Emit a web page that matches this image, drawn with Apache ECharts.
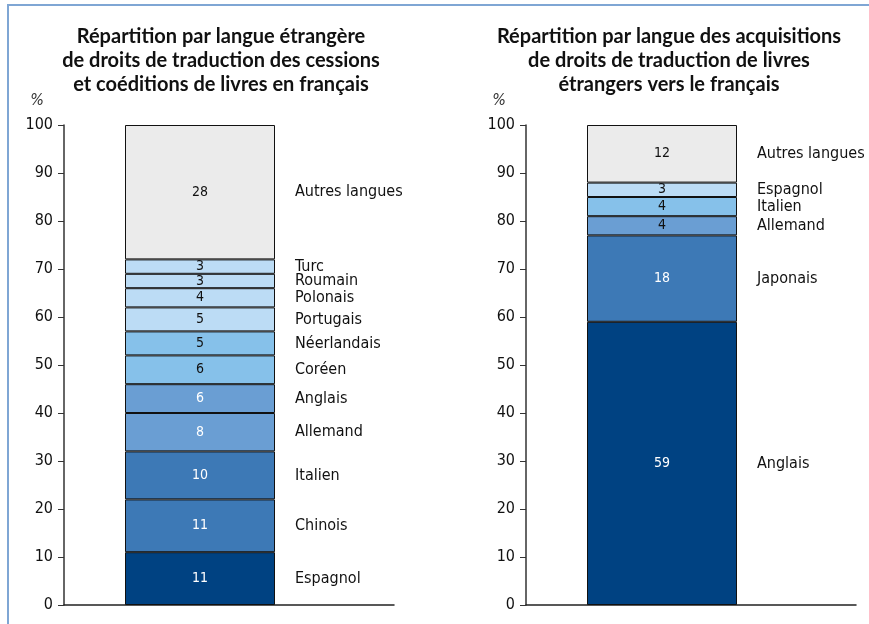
<!DOCTYPE html>
<html>
<head>
<meta charset="utf-8">
<script src="https://cdn.jsdelivr.net/npm/echarts@6/dist/echarts.min.js"></script>
<style>
html,body{margin:0;padding:0;background:#fff;}
#wrap{position:relative;width:869px;height:624px;overflow:hidden;}
#frame{position:absolute;left:7px;top:4px;width:900px;height:700px;border-left:2px solid #7fa6d4;border-top:2px solid #7fa6d4;box-sizing:border-box;}
#chart{position:absolute;left:0;top:0;width:869px;height:624px;}
</style>
</head>
<body>
<div id="wrap"><div id="frame"></div><div id="chart"></div></div>
<script>
// Left chart: cessions et coéditions (bottom to top)
const leftCategories = ['Espagnol','Chinois','Italien','Allemand','Anglais','Coréen','Néerlandais','Portugais','Polonais','Roumain','Turc','Autres langues'];
const leftValues = [11, 11, 10, 8, 6, 6, 5, 5, 4, 3, 3, 28];
const leftColors = ['#004282','#3d79b6','#3d79b6','#6a9ed3','#6a9ed3','#86c1ea','#86c1ea','#bcdcf5','#bcdcf5','#bcdcf5','#bcdcf5','#ebebeb'];
const leftLabelColors = ['#ffffff','#ffffff','#ffffff','#ffffff','#ffffff','#111111','#111111','#111111','#111111','#111111','#111111','#111111'];

// Right chart: acquisitions (bottom to top)
const rightCategories = ['Anglais','Japonais','Allemand','Italien','Espagnol','Autres langues'];
const rightValues = [59, 18, 4, 4, 3, 12];
const rightColors = ['#004282','#3d79b6','#6a9ed3','#86c1ea','#bcdcf5','#ebebeb'];
const rightLabelColors = ['#ffffff','#ffffff','#111111','#111111','#111111','#111111'];

const yTicks = [0,10,20,30,40,50,60,70,80,90,100];

const titles = [
  'Répartition par langue étrangère\nde droits de traduction des cessions\net coéditions de livres en français',
  'Répartition par langue des acquisitions\nde droits de traduction de livres\nétrangers vers le français'
];

const FONT = '"Liberation Sans Narrow","DejaVu Sans Condensed",sans-serif';
const TFONT = 'Lato, "Open Sans", sans-serif';

const chart = echarts.init(document.getElementById('chart'));

// grids 0,1 : bars ; grids 2,3 : full-width baseline axes
function makeYAxis(grid, visible){
  return {
    type:'value', gridIndex:grid, min:yTicks[0], max:yTicks[yTicks.length-1], interval:10,
    show:visible,
    name:'%', nameLocation:'end', nameGap:16,
    nameTextStyle:{fontFamily:FONT, fontSize:16, color:'#333', fontStyle:'italic', align:'right', padding:[0,20,0,0]},
    axisLine:{show:true, lineStyle:{color:'#333', width:1.5}},
    axisTick:{show:true, length:6, lineStyle:{color:'#333', width:1}},
    axisLabel:{fontFamily:FONT, fontSize:16, color:'#111', margin:11},
    splitLine:{show:false}
  };
}
function makeBarXAxis(grid){
  return {
    type:'category', gridIndex:grid, data:[''],
    axisLine:{show:false}, axisTick:{show:false}, axisLabel:{show:false}, splitLine:{show:false}
  };
}
function makeLineXAxis(grid){
  return {
    type:'value', gridIndex:grid, min:0, max:1,
    axisLine:{show:true, onZero:false, lineStyle:{color:'#222', width:1.5}},
    axisTick:{show:false}, axisLabel:{show:false}, splitLine:{show:false}
  };
}

const series = [];
function addStack(idx, cats, vals, colors, lcolors){
  cats.forEach((c,j)=>{
    series.push({
      type:'bar', name:c, xAxisIndex:idx, yAxisIndex:idx, stack:'s'+idx,
      barWidth:150, barGap:'-100%',
      data:[vals[j]],
      itemStyle:{color:colors[j], borderColor:'#111', borderWidth:1},
      label:{show:true, position:'inside', formatter:String(vals[j]), fontFamily:FONT, fontSize:14, color:lcolors[j]},
      silent:true
    });
  });
  cats.forEach((c,j)=>{
    series.push({
      type:'bar', name:c+' ', xAxisIndex:idx, yAxisIndex:idx, stack:'n'+idx,
      barWidth:150, barGap:'-100%',
      data:[vals[j]],
      itemStyle:{color:'rgba(0,0,0,0)', borderWidth:0},
      label:{show:true, position:'right', distance:20, formatter:c, fontFamily:FONT, fontSize:16, color:'#111', lineHeight:16},
      labelLayout:{moveOverlap:'shiftY'},
      silent:true, z:5
    });
  });
}
addStack(0, leftCategories, leftValues, leftColors, leftLabelColors);
addStack(1, rightCategories, rightValues, rightColors, rightLabelColors);

chart.setOption({
  animation:false,
  backgroundColor:'transparent',
  title:[
    {text:titles[0], left:216, top:20, textAlign:'center',
     textStyle:{fontFamily:TFONT, fontWeight:'bold', fontSize:20, lineHeight:24, color:'#111'}},
    {text:titles[1], left:664, top:20, textAlign:'center',
     textStyle:{fontFamily:TFONT, fontWeight:'bold', fontSize:20, lineHeight:24, color:'#111'}}
  ],
  grid:[
    {left:64, top:125, width:272, height:480},
    {left:526, top:125, width:272, height:480},
    {left:64, top:125, width:330, height:480},
    {left:526, top:125, width:330, height:480}
  ],
  xAxis:[makeBarXAxis(0), makeBarXAxis(1), makeLineXAxis(2), makeLineXAxis(3)],
  yAxis:[makeYAxis(0,true), makeYAxis(1,true), makeYAxis(2,false), makeYAxis(3,false)],
  series:series
});
</script>
</body>
</html>
